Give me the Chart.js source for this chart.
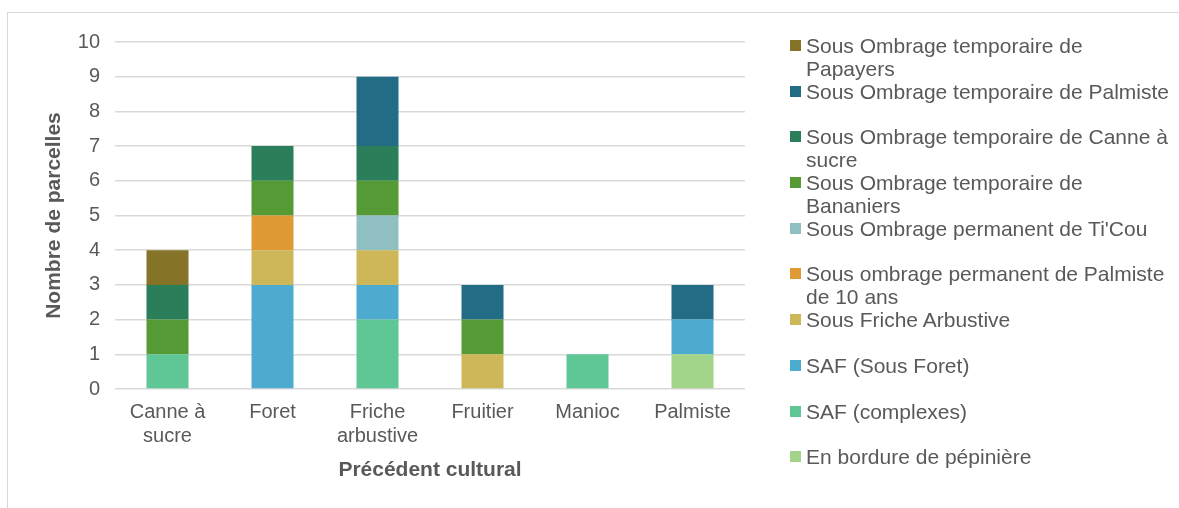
<!DOCTYPE html>
<html>
<head>
<meta charset="utf-8">
<script src="https://cdn.jsdelivr.net/npm/chart.js@4/dist/chart.umd.min.js"></script>
<style>
  html, body { margin: 0; padding: 0; background: #fff; }
  #wrap { position: relative; width: 1179px; height: 508px; overflow: hidden; }
  #frame { position: absolute; left: 7px; top: 12px; width: 1200px; height: 600px;
           border-top: 1.5px solid #d9d9d9; border-left: 1.5px solid #d9d9d9; }
  canvas { position: absolute; left: 0; top: 0; }
  #legend { position: absolute; left: 790px; top: 34px; width: 383px;
            font-family: "Liberation Sans", Arial, sans-serif; font-size: 21px; color: #595959; }
  .item { position: relative; height: 45.7px; padding-left: 16px; line-height: 23px; box-sizing: border-box; }
  .item span.box { position: absolute; left: 0; top: 6px; width: 11px; height: 11px; }
</style>
</head>
<body>
<div id="wrap">
  <div id="frame"></div>
  <canvas id="chart" width="1179" height="508"></canvas>
  <div id="legend"></div>
</div>
<script>
// categories (précédent cultural)
const categories = [['Canne à', 'sucre'], 'Foret', ['Friche', 'arbustive'], 'Fruitier', 'Manioc', 'Palmiste'];

// series, bottom of stack first
const seriesNames = [
  'En bordure de pépinière',
  'SAF (complexes)',
  'SAF (Sous Foret)',
  'Sous Friche Arbustive',
  'Sous ombrage permanent de Palmiste de 10 ans',
  "Sous Ombrage permanent de Ti'Cou",
  'Sous Ombrage temporaire de Bananiers',
  'Sous Ombrage temporaire de Canne à sucre',
  'Sous Ombrage temporaire de Palmiste',
  'Sous Ombrage temporaire de Papayers'
];
const seriesColors = ['#a2d58a', '#5ec795', '#4cabcf', '#cdb759', '#e09a35', '#8fbfc1', '#569a36', '#2a7f5a', '#236c86', '#857327'];

const enBordure       = [0, 0, 0, 0, 0, 1];
const safComplexes    = [1, 0, 2, 0, 1, 0];
const safSousForet    = [0, 3, 1, 0, 0, 1];
const sousFriche      = [0, 1, 1, 1, 0, 0];
const palmiste10ans   = [0, 1, 0, 0, 0, 0];
const tiCou           = [0, 0, 1, 0, 0, 0];
const bananiers       = [1, 1, 1, 1, 0, 0];
const canneASucre     = [1, 1, 1, 0, 0, 0];
const palmisteTemp    = [0, 0, 2, 1, 0, 1];
const papayers        = [1, 0, 0, 0, 0, 0];
const seriesValues = [enBordure, safComplexes, safSousForet, sousFriche, palmiste10ans, tiCou, bananiers, canneASucre, palmisteTemp, papayers];

const yTicks = [0, 1, 2, 3, 4, 5, 6, 7, 8, 9, 10];

const font = "'Liberation Sans', Arial, sans-serif";
const textColor = '#595959';

// HTML legend, reversed order like the original
const legendEl = document.getElementById('legend');
for (let i = seriesNames.length - 1; i >= 0; i--) {
  const item = document.createElement('div');
  item.className = 'item';
  item.innerHTML = '<span class="box" style="background:' + seriesColors[i] + '"></span>' + seriesNames[i];
  legendEl.appendChild(item);
}

const ctx = document.getElementById('chart').getContext('2d');
new Chart(ctx, {
  type: 'bar',
  data: {
    labels: categories,
    datasets: seriesNames.map((name, i) => ({
      label: name,
      data: seriesValues[i].map(v => v === 0 ? null : v),
      backgroundColor: seriesColors[i],
      borderWidth: 0,
      categoryPercentage: 1,
      barPercentage: 0.4
    }))
  },
  options: {
    responsive: false,
    animation: false,
    layout: { padding: { top: 42, right: 434, left: 0, bottom: 0 } },
    plugins: {
      legend: { display: false },
      tooltip: { enabled: false }
    },
    scales: {
      x: {
        stacked: true,
        grid: { display: false, drawTicks: false },
        border: { display: false },
        ticks: { color: textColor, font: { family: font, size: 20, lineHeight: 1.2 }, padding: 11, maxRotation: 0 },
        title: { display: true, text: 'Précédent cultural', color: textColor,
                 font: { family: font, size: 21, weight: 'bold' }, padding: { top: 0, bottom: 25 } },
        afterFit: function(scale) { scale.height = 119; }
      },
      y: {
        stacked: true,
        min: 0,
        max: 10,
        afterBuildTicks: function(scale) { scale.ticks = yTicks.map(v => ({ value: v })); },
        grid: { color: '#d9d9d9', lineWidth: 1.5, drawTicks: false },
        border: { display: false },
        ticks: { color: textColor, font: { family: font, size: 20 }, padding: 15 },
        title: { display: true, text: 'Nombre de parcelles', color: textColor,
                 font: { family: font, size: 21, weight: 'bold' }, padding: { top: 42, bottom: 0 } },
        afterFit: function(scale) { scale.width = 115; }
      }
    }
  }
});
</script>
</body>
</html>
